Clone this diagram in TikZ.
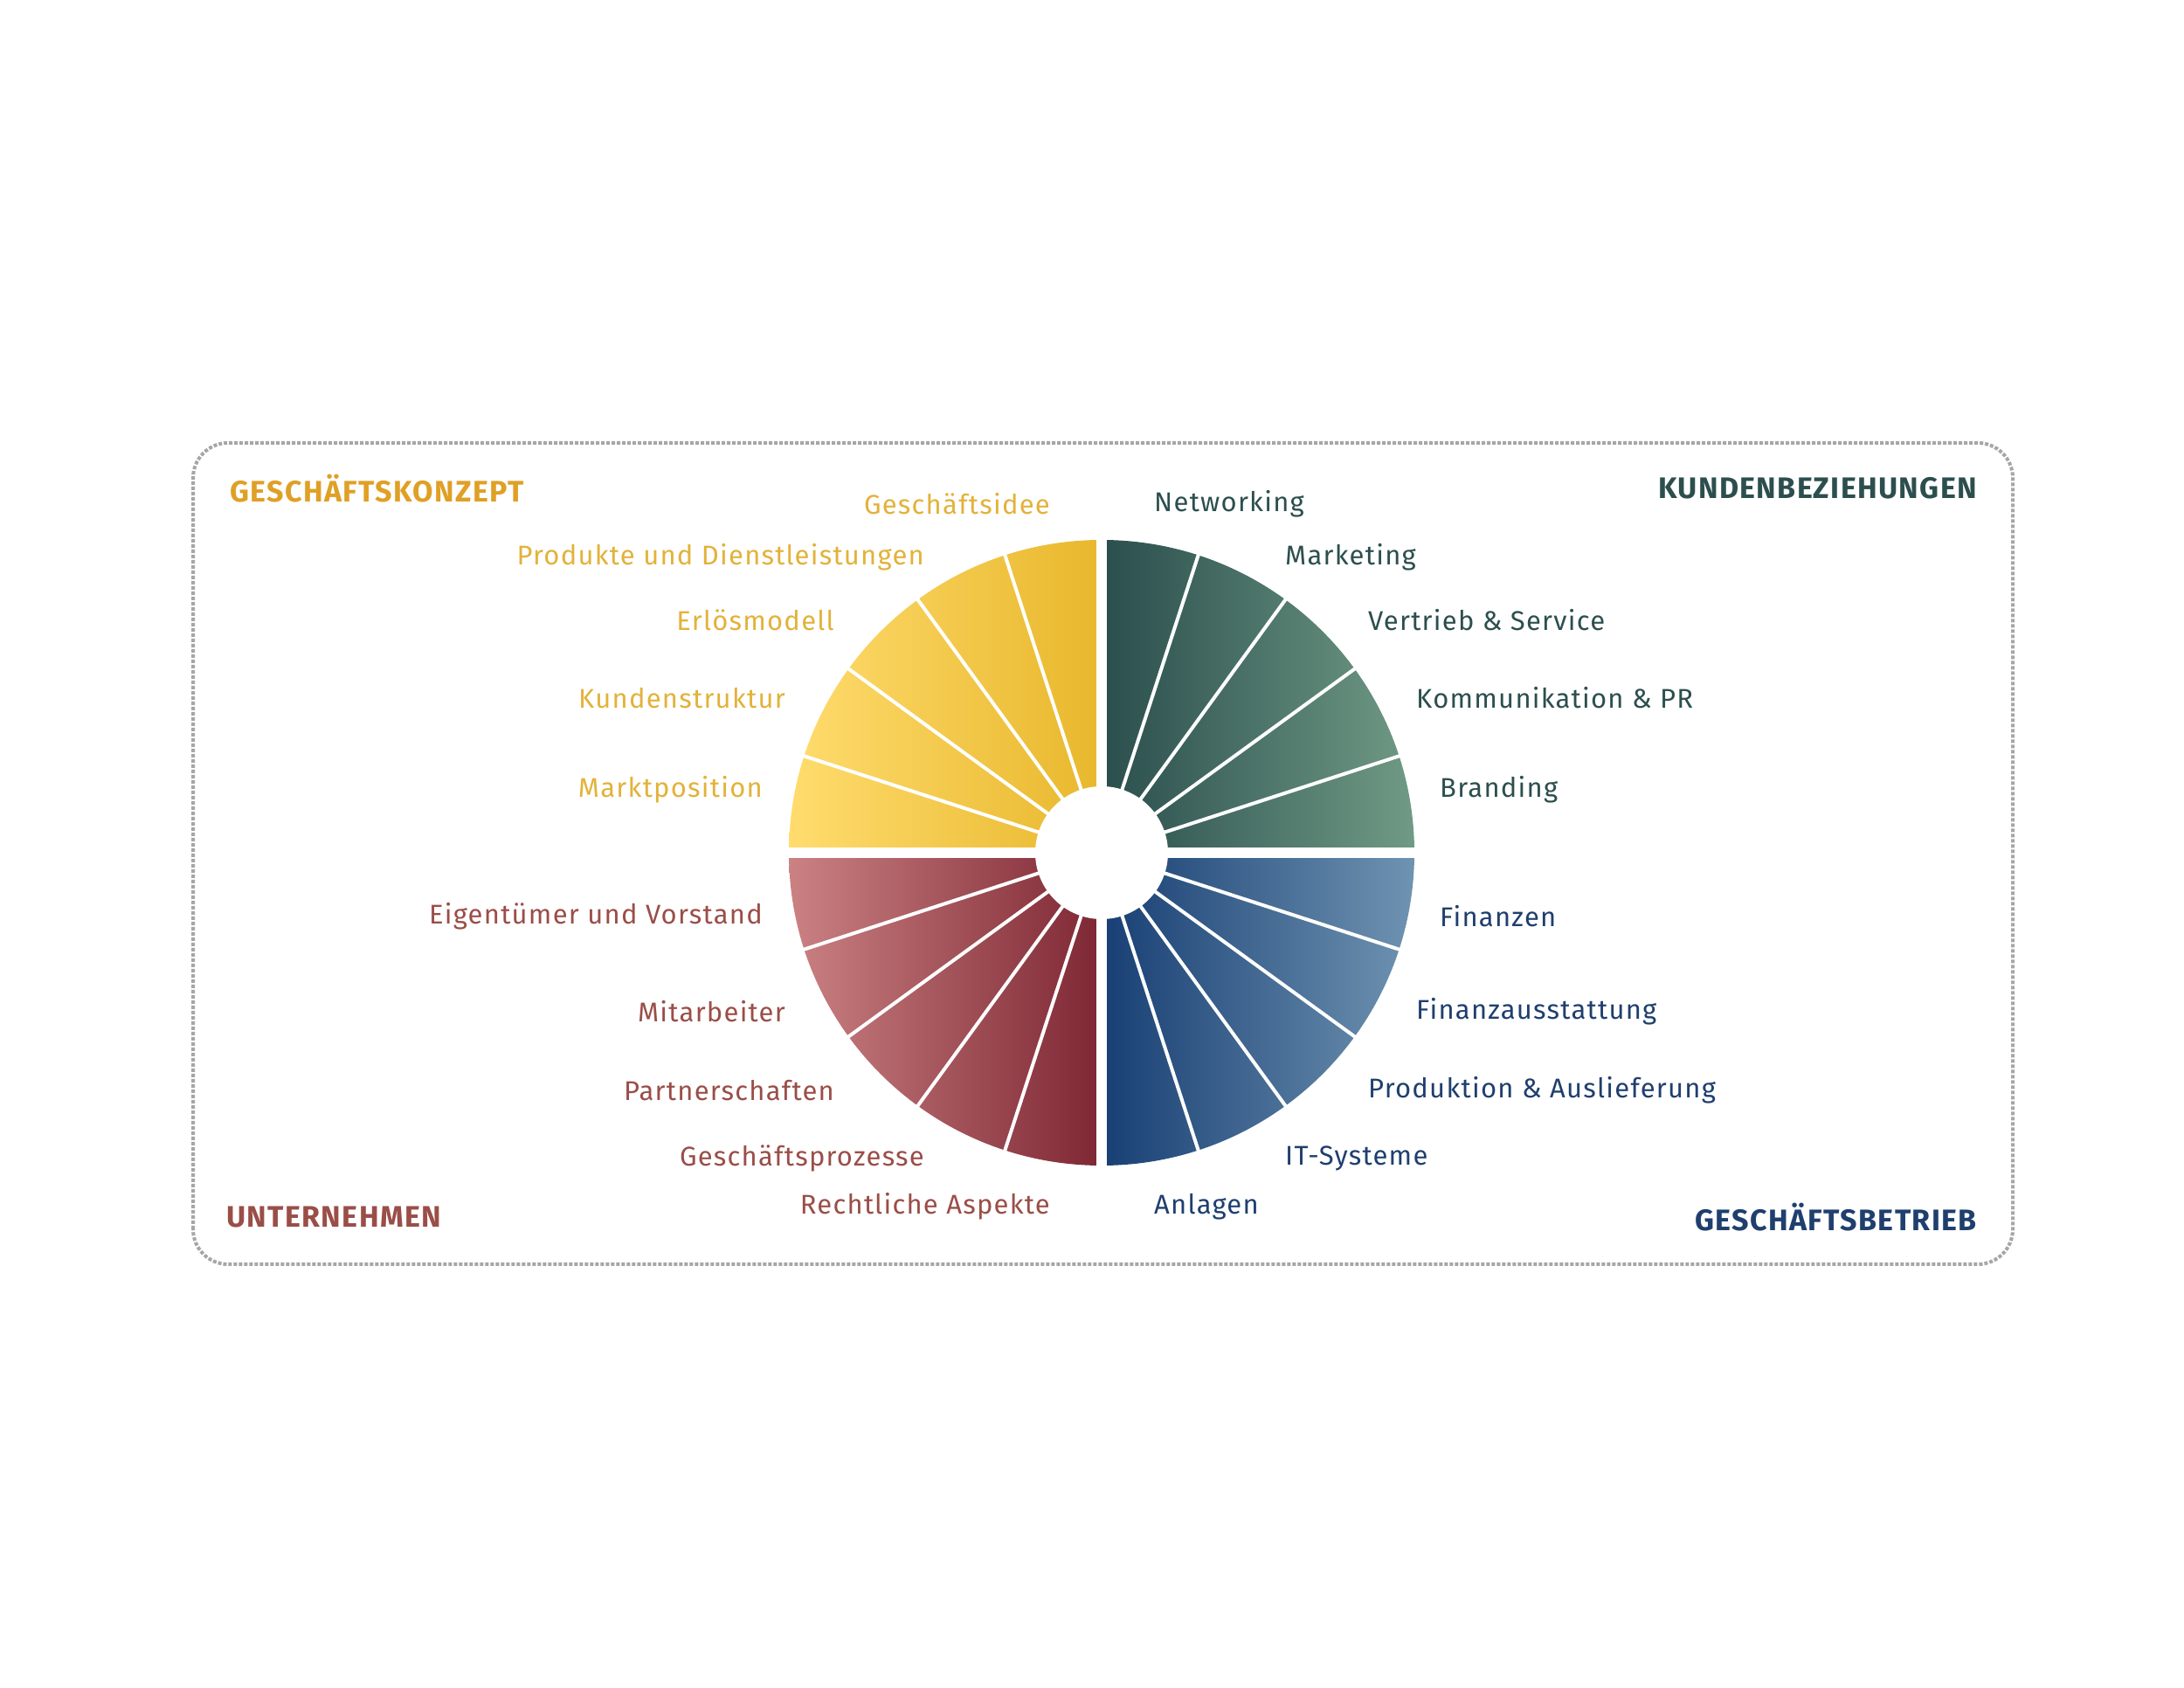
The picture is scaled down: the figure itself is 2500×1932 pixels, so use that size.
\documentclass[tikz,border=0pt]{standalone}
\usepackage{fontspec}
\setmainfont{Fira Sans}[LetterSpace=4]
\definecolor{ytx}{HTML}{E2B23A}
\definecolor{yhd}{HTML}{DFA026}
\definecolor{ttx}{HTML}{2C4F4E}
\definecolor{rtx}{HTML}{9A4E48}
\definecolor{btx}{HTML}{1F3F6E}
\definecolor{yl}{HTML}{FFDC6E}\definecolor{yr}{HTML}{E8B72C}
\definecolor{tl}{HTML}{2A4E4D}\definecolor{tr}{HTML}{709A85}
\definecolor{bl}{HTML}{183F74}\definecolor{br}{HTML}{6F93B1}
\definecolor{rl}{HTML}{CB8283}\definecolor{rr}{HTML}{7E2734}
\begin{document}
\begin{tikzpicture}[x=1pt,y=1pt,
  lab/.style={font=\fontsize{31}{36}\selectfont,inner sep=0pt},
  hd/.style={font=\fontsize{34}{40}\selectfont\bfseries,inner sep=0pt}]
\useasboundingbox (0,0) rectangle (2500,1932);
\coordinate (c) at (1261,956);
\def\R{358}
\shade[left color=yl,right color=yr] (c) -- ++(90:\R) arc (90:180:\R) -- cycle;
\shade[left color=tl,right color=tr] (c) -- ++(0:\R) arc (0:90:\R) -- cycle;
\shade[left color=bl,right color=br] (c) -- ++(270:\R) arc (270:360:\R) -- cycle;
\shade[left color=rl,right color=rr] (c) -- ++(180:\R) arc (180:270:\R) -- cycle;
\foreach \a in {18,36,54,72} {
  \foreach \q in {0,90,180,270} {
    \draw[white,line width=4] (c) -- ++(\a+\q:\R+5);
  }
}
\fill[white] ([xshift=-6]c |- 0,540) rectangle ([xshift=6]c |- 0,1380);
\fill[white] ([yshift=-6]c -| 850,0) rectangle ([yshift=6]c -| 1680,0);
\fill[white] (c) circle (76);
\draw[gray!70,line width=4,dotted,rounded corners=40] (221,485) rectangle (2304,1425);
% yellow
\node[lab,text=ytx,anchor=east] (y1) at (1202,1355) {Geschäftsidee};
\node[lab,text=ytx,anchor=east] (y2) at (1058,1294) {Produkte und Dienstleistungen};
\node[lab,text=ytx,anchor=east] (y3) at (955,1222) {Erlösmodell};
\node[lab,text=ytx,anchor=east] (y4) at (899,1133) {Kundenstruktur};
\node[lab,text=ytx,anchor=east] (y5) at (873,1028) {Marktposition};
% teal
\node[lab,text=ttx,anchor=west] (t1) at (1321,1355) {Networking};
\node[lab,text=ttx,anchor=west] (t2) at (1471,1294) {Marketing};
\node[lab,text=ttx,anchor=west] (t3) at (1566,1222) {Vertrieb \& Service};
\node[lab,text=ttx,anchor=west] (t4) at (1621,1133) {Kommunikation \& PR};
\node[lab,text=ttx,anchor=west] (t5) at (1648,1028) {Branding};
% red
\node[lab,text=rtx,anchor=east] (r1) at (873,883) {Eigentümer und Vorstand};
\node[lab,text=rtx,anchor=east] (r2) at (899,774) {Mitarbeiter};
\node[lab,text=rtx,anchor=east] (r3) at (955,684) {Partnerschaften};
\node[lab,text=rtx,anchor=east] (r4) at (1058,606) {Geschäftsprozesse};
\node[lab,text=rtx,anchor=east] (r5) at (1202,551) {Rechtliche Aspekte};
% blue
\node[lab,text=btx,anchor=west] (b1) at (1648,883) {Finanzen};
\node[lab,text=btx,anchor=west] (b2) at (1621,774) {Finanzausstattung};
\node[lab,text=btx,anchor=west] (b3) at (1566,684) {Produktion \& Auslieferung};
\node[lab,text=btx,anchor=west] (b4) at (1471,606) {IT-Systeme};
\node[lab,text=btx,anchor=west] (b5) at (1321,551) {Anlagen};
% headers
\node[hd,text=yhd,anchor=west] (h1) at (263,1373) {GESCHÄFTSKONZEPT};
\node[hd,text=ttx,anchor=east] (h2) at (2263,1373) {KUNDENBEZIEHUNGEN};
\node[hd,text=rtx,anchor=west] (h3) at (259,539) {UNTERNEHMEN};
\node[hd,text=btx,anchor=east] (h4) at (2263,539) {GESCHÄFTSBETRIEB};
\end{tikzpicture}
\end{document}
